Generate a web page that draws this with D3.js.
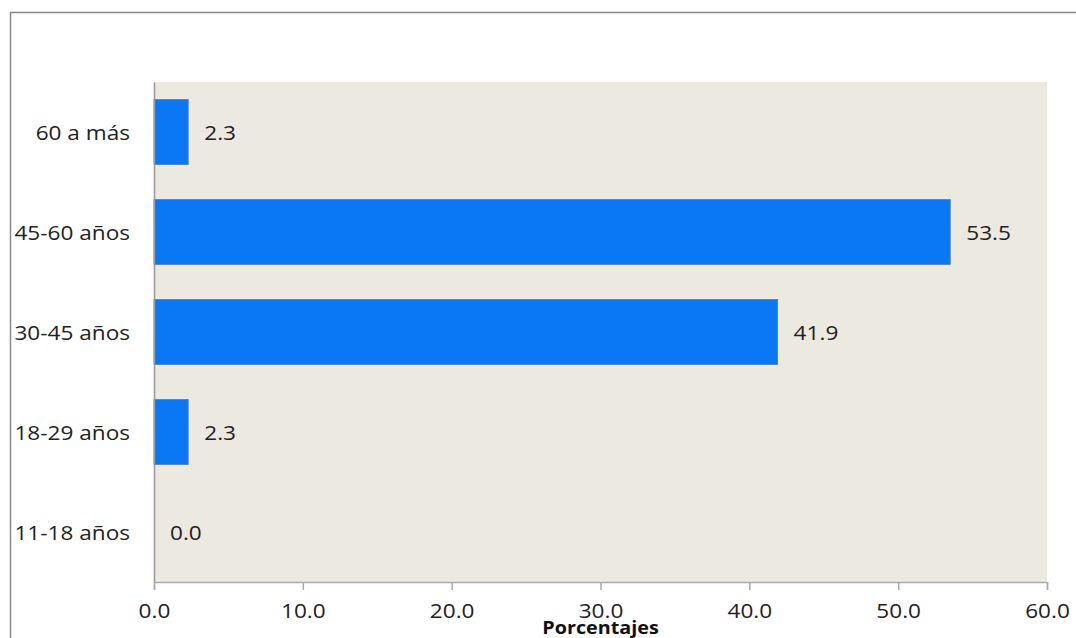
<!DOCTYPE html>
<html><head><meta charset="utf-8">
<script src="https://cdn.jsdelivr.net/npm/d3@7"></script>
<style>body{margin:0;background:#fff}svg{display:block}</style>
</head><body>
<svg id="c" width="1076" height="638"></svg>
<script>
const categories = ["60 a más", "45-60 años", "30-45 años", "18-29 años", "11-18 años"];
const values = [2.3, 53.5, 41.9, 2.3, 0.0];
const xTicks = [0, 10, 20, 30, 40, 50, 60];
const xTitle = "Porcentajes";

const svg = d3.select("#c");
const m = {left:154, right:1047, top:82, bottom:582};
const font = "Open Sans";
const sx = 1.13;

svg.append("rect").attr("x",10.5).attr("y",12.5).attr("width",1100).attr("height",700)
  .attr("fill","#fff").attr("stroke","#888").attr("stroke-width",1.5);

const x = d3.scaleLinear().domain([0,60]).range([m.left,m.right]);
const y = d3.scaleBand().domain(categories).range([m.top,m.bottom]).paddingInner(0.35).paddingOuter(0.175);

svg.append("rect").attr("x",m.left).attr("y",m.top).attr("width",m.right-m.left).attr("height",m.bottom-m.top).attr("fill","#ECE9E0");

svg.selectAll(".bar").data(values).join("rect")
  .attr("x",x(0)).attr("y",(d,i)=>y(categories[i]))
  .attr("width",d=>x(d)-x(0)).attr("height",y.bandwidth())
  .attr("fill","#0A77F5").attr("stroke",d=>d>0?"#5a7fa8":"none").attr("stroke-width",0.8);

svg.selectAll(".lbl").data(values).join("text")
  .attr("transform",(d,i)=>`translate(${x(d)+16},${y(categories[i])+y.bandwidth()/2+7.5}) scale(${sx},1)`)
  .attr("font-family",font).attr("font-size",20).attr("fill","#222")
  .text(d=>d.toFixed(1));

// y axis
const ya = svg.append("g").attr("transform",`translate(${m.left},0)`)
  .call(d3.axisLeft(y).tickSize(0).tickPadding(0));
ya.select(".domain").attr("stroke","#999").attr("stroke-width",1.5);
ya.selectAll("text").attr("font-family",font).attr("font-size",20).attr("fill","#222")
  .attr("x",-24/sx).attr("dy",null).attr("y",7.5).attr("transform",`scale(${sx},1)`);

// x axis
const xa = svg.append("g").attr("transform",`translate(0,${m.bottom})`)
  .call(d3.axisBottom(x).tickValues(xTicks).tickSize(8).tickSizeOuter(8).tickPadding(0).tickFormat(d=>d.toFixed(1)));
xa.select(".domain").attr("stroke","#aaa").attr("stroke-width",1.5);
xa.selectAll(".tick line").attr("stroke","#aaa").attr("stroke-width",1.5);
xa.selectAll("text").attr("font-family",font).attr("font-size",20).attr("fill","#222")
  .attr("dy",null).attr("y",36).attr("transform",`scale(${sx},1)`);

svg.append("text").attr("transform",`translate(${(m.left+m.right)/2},634) scale(${sx},1)`).attr("text-anchor","middle")
  .attr("font-family",font).attr("font-size",17.5).attr("font-weight","bold").attr("fill","#111").text(xTitle);
</script>
</body></html>
